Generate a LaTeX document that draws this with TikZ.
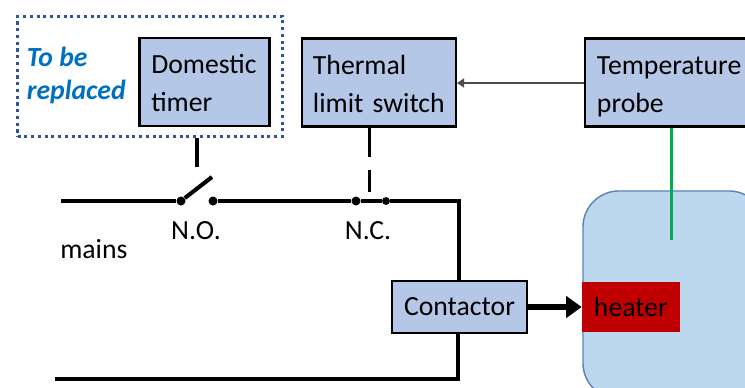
\documentclass[tikz,border=0pt]{standalone}
\usepackage{fontspec}
\setmainfont{Carlito}
\usepackage{xcolor}
\usetikzlibrary{arrows.meta,positioning}
\definecolor{boxblue}{RGB}{180,199,231}
\definecolor{tankblue}{RGB}{189,215,238}
\definecolor{tankedge}{RGB}{91,129,185}
\definecolor{heaterred}{RGB}{192,0,0}
\definecolor{probegreen}{RGB}{0,176,80}
\definecolor{dotblue}{RGB}{47,85,151}
\definecolor{notered}{RGB}{0,112,192}
\tikzset{
    ctrlbox/.style={rectangle, draw=black, fill=boxblue, line width=1.5pt, inner sep=0pt, font=\fontsize{19.7}{27}\selectfont},
    txtbox/.style={ctrlbox, align=left, minimum height=2.2cm, execute at begin node={\rule{0pt}{20.5pt}}, execute at end node={\rule[-5.5pt]{0pt}{5.5pt}}},
    wire/.style={line width=2.9pt, black},
    linkwire/.style={line width=2.3pt, black},
    contact/.style={circle, fill=black, inner sep=0pt, minimum size=6.4pt},
    smalllabel/.style={inner sep=0pt, font=\fontsize{19.7}{27}\selectfont},
}
\begin{document}
\begin{tikzpicture}[x=0.025cm, y=-0.025cm]
    \path[clip, use as bounding box] (0,0) rectangle (745,388);
    % tank
    \node[draw=tankedge, fill=tankblue, line width=1pt, rectangle, rounded corners=0.9cm, inner sep=0pt, minimum width=4.55cm, minimum height=5.2cm] (tank) at (674,295) {};
    \node[fill=heaterred, inner sep=0pt, minimum width=2.45cm, minimum height=1.25cm, smalllabel, text width=1.85cm, align=left] (heater) at (631,307) {heater};
    % control boxes
    \node[draw=dotblue, line width=2.2pt, dash pattern=on 2.2pt off 2.6pt, inner sep=0pt, minimum width=6.62cm, minimum height=3cm] (replaced) at (150,76.5) {};
    \node[anchor=west, inner sep=0pt, align=left, text=notered, font=\fontsize{19.7}{23.5}\selectfont\bfseries\itshape] (note) at (26.5,75) {To be\\replaced};
    \node[txtbox, minimum width=3.25cm, text width=2.66cm] (timer) at (204.5,82) {Domestic\\timer};
    \node[txtbox, minimum width=3.85cm, text width=3.3cm] (thermal) at (379,82.5) {Thermal\\limit switch};
    \node[txtbox, minimum width=4.4cm, text width=3.8cm] (temp) at (673,82.5) {Temperature\\probe};
    \node[ctrlbox, minimum width=3.38cm, minimum height=1.28cm] (contactor) at (459.5,307) {Contactor};
    % switch contacts
    \node[contact] (noL) at (181,201) {};
    \node[contact] (noR) at (213,201) {};
    \node[contact] (ncL) at (356,201) {};
    \node[contact, minimum size=5.6pt] (ncR) at (386,201) {};
    \coordinate (mainsTop) at (61,201);
    \coordinate (mainsBot) at (55,379);
    \coordinate (cornerTop) at (459,201);
    \coordinate (cornerBot) at (458,379);
    \coordinate (arm) at (212,177);
    \coordinate (timerEnd) at (197,167);
    \coordinate (thermalEnd) at (369.5,192);
    \coordinate (probeEnd) at (671.3,240);
    % wiring
    \draw[wire] (mainsTop) -- (noL);
    \draw[wire] (noL) -- (arm);
    \draw[wire] (noR) -- (ncL) -- (ncR) -- (cornerTop) -- (contactor.north -| cornerTop);
    \draw[wire] (contactor.south -| cornerBot) -- (cornerBot) -- (mainsBot);
    \draw[linkwire] (replaced.south -| timerEnd) -- (timerEnd);
    \draw[linkwire, dash pattern=on 21pt off 9pt] (thermal.south -| thermalEnd) -- (thermalEnd);
    \draw[line width=2.2pt, probegreen] (temp.south -| probeEnd) -- (probeEnd);
    \draw[line width=1pt, black!70, -{Triangle[length=5pt, width=6.5pt]}] (temp.west |- 0,83) -- (thermal.east |- 0,83);
    \draw[line width=4.4pt, -{Triangle[length=11pt, width=15pt, sep=0pt]}] (contactor) -- (heater.west |- contactor);
    % labels
    \node[smalllabel] (nolabel) at (196,231) {N.O.};
    \node[smalllabel] (nclabel) at (368,231) {N.C.};
    \node[smalllabel, anchor=west] (mains) at (60,249) {mains};
\end{tikzpicture}
\end{document}
